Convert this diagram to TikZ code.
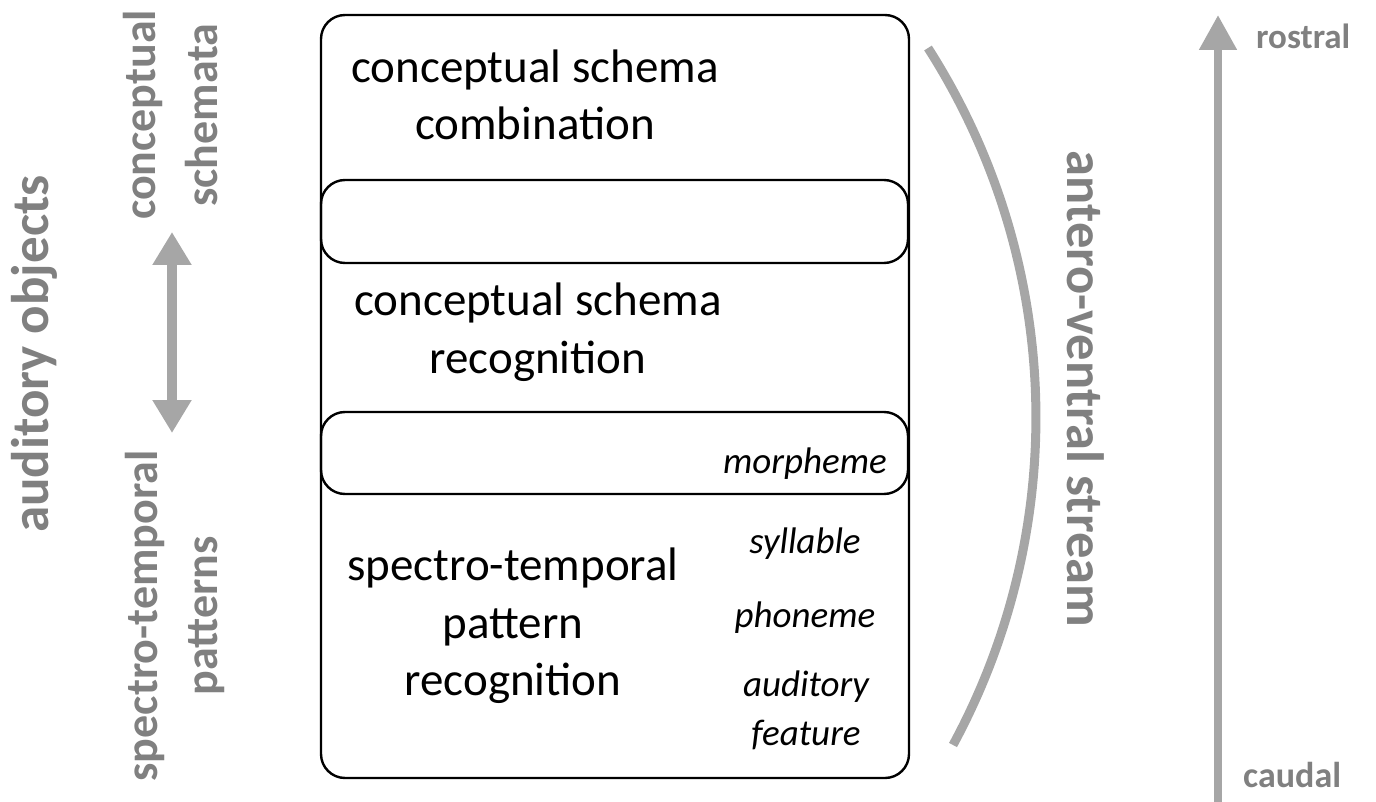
\documentclass[tikz,border=0pt]{standalone}
\usepackage{fontspec}
\setmainfont{Carlito}
\usetikzlibrary{arrows.meta}
\definecolor{lblgray}{RGB}{128,128,128}
\definecolor{arrgray}{RGB}{166,166,166}

\begin{document}
\begin{tikzpicture}[x=1pt,y=-1pt,
        layer/.style={draw=black, line width=2.4pt, rounded corners=24pt},
        stream/.style={draw=arrgray, line width=9pt},
    ]
    % black labels inside the levels
    \tikzstyle{main}=[inner sep=0, align=center, font=\fontsize{47}{57.5}\selectfont]
    % italic units on the right
    \tikzstyle{unit}=[inner sep=0, align=center, font=\fontsize{37}{49}\selectfont\itshape]
    % gray labels outside the box
    \tikzstyle{side}=[inner sep=0, align=center, text=lblgray, font=\fontsize{46}{61}\selectfont\bfseries]
    \useasboundingbox (0,0) rectangle (1376,802);

    % levels
    \draw[layer] (321,15) rectangle (909,778);
    \draw[layer] (321,180) rectangle (908,263);
    \draw[layer] (321,412) rectangle (908,494);

    \node[main] (CSC) at (535,95) {conceptual schema\\combination};
    \node[main] (CSR) at (538,332) {conceptual schema\\recognition};
    \node[main] (STP) at (513,626) {spectro-temporal\\pattern\\recognition};
    \node[unit, anchor=base] (MOR) at (805,473) {morpheme};
    \node[unit, anchor=base] (SYL) at (805,553) {syllable};
    \node[unit, anchor=base] (PHO) at (805,627) {phoneme};
    \node[unit] (FEA) at (806,710) {auditory\\feature};

    % left side
    \node[side, rotate=90, anchor=base, font=\fontsize{53}{60}\selectfont\bfseries] (AO) at (48,354) {auditory objects};
    \node[side, rotate=90, anchor=base] (CON) at (155,115) {conceptual};
    \node[side, rotate=90, anchor=base] (SCH) at (217,115) {schemata};
    \node[side, rotate=90, anchor=base] (SPT) at (157,616) {spectro-temporal};
    \node[side, rotate=90, anchor=base] (PAT) at (217,616) {patterns};
    \coordinate (UP) at (172,232);
    \coordinate (DN) at (172,433);
    \draw[stream, line width=10pt, {Triangle[length=33pt,width=37pt]}-{Triangle[length=33pt,width=37pt]}] (UP) -- (DN);

    % stream
    \coordinate (SA) at (928,48);
    \coordinate (SB) at (953,745);
    \draw[stream] (SA) .. controls (1062.5,258.4) and (1071.8,525.4) .. (SB);
    \node[side, rotate=-90, anchor=base, font=\fontsize{52.5}{60}\selectfont\bfseries] (AVS) at (1067,389) {antero-ventral stream};

    % rostro-caudal axis
    \node[side, anchor=base west, font=\fontsize{35}{40}\selectfont\bfseries] (ROS) at (1256,49) {rostral};
    \node[side, anchor=base west, font=\fontsize{36}{40}\selectfont\bfseries] (CAU) at (1243,787) {caudal};
    \coordinate (BOT) at (1218,802);
    \coordinate (TOP) at (1218,15);
    \draw[stream, line width=8pt, -{Triangle[length=35pt,width=36pt]}] (BOT) -- (TOP);
\end{tikzpicture}
\end{document}
